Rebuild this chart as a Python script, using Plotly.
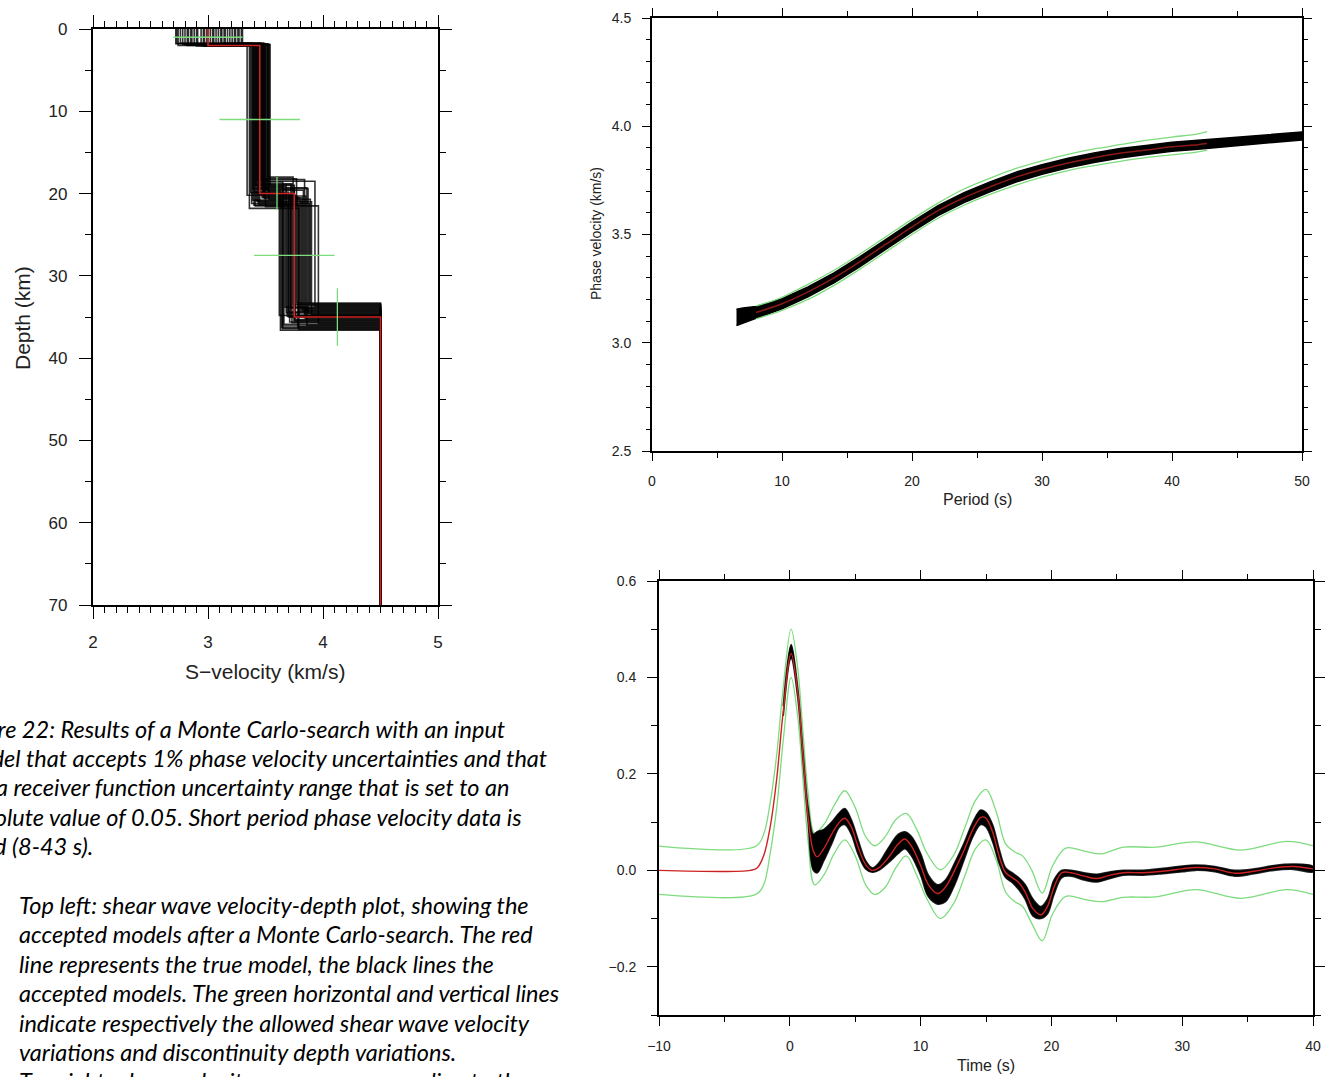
import plotly.graph_objects as go

W, H = 1334, 1077

# ---------------- Top-left: S-velocity vs depth ----------------
true_v = [3.0, 3.0, 3.45, 3.45, 3.75, 3.75, 4.5, 4.5]
true_d = [0, 2, 2, 20, 20, 35, 35, 70]

acc_v1 = [2.72, 3.29, 2.85, 3.12, 2.96, 2.78, 3.21, 3.05, 2.91, 3.17, 2.74, 3.26, 2.99, 2.82, 3.09, 3.23, 2.88, 3.02,
          2.76, 3.15, 2.94, 3.19, 2.80, 3.07, 2.97, 3.27, 2.86, 3.11, 2.73, 3.00, 3.24, 2.90, 3.14, 2.83, 3.04, 3.30]
acc_d1 = [1.8, 2.0, 1.9, 1.75, 2.05, 1.85, 1.95, 2.1, 1.8, 1.9, 2.0, 1.7, 1.85, 2.0, 1.95, 1.8, 1.9, 2.05,
          1.75, 1.85, 2.0, 1.9, 1.95, 1.8, 2.1, 1.85, 1.9, 2.0, 1.75, 1.95, 1.8, 2.05, 1.9, 1.85, 2.0, 1.95]
acc_v2 = [3.40, 3.47, 3.52, 3.38, 3.44, 3.50, 3.36, 3.42, 3.48, 3.54, 3.41, 3.46, 3.39, 3.51, 3.45, 3.43, 3.53, 3.37,
          3.49, 3.44, 3.40, 3.47, 3.34, 3.52, 3.42, 3.46, 3.50, 3.39, 3.48, 3.43, 3.45, 3.41, 3.53, 3.47, 3.44, 3.49]
acc_d2 = [19.8, 20.5, 18.6, 21.2, 19.5, 20.0, 21.8, 18.9, 20.3, 19.1, 21.5, 18.2, 20.8, 19.6, 20.1, 21.0, 18.0, 19.9,
          20.6, 19.3, 21.4, 18.5, 20.2, 19.7, 20.9, 18.8, 21.6, 19.4, 20.4, 18.3, 21.1, 19.0, 20.7, 19.2, 21.3, 20.0]
acc_v3 = [3.70, 3.82, 3.65, 3.88, 3.75, 3.62, 3.79, 3.72, 3.85, 3.68, 3.96, 3.77, 3.64, 3.83, 3.71, 3.90, 3.74, 3.66,
          3.80, 3.86, 3.69, 3.93, 3.76, 3.63, 3.81, 3.73, 3.67, 3.87, 3.78, 3.84, 3.70, 3.75, 3.89, 3.65, 3.79, 3.72]
acc_d3 = [35.0, 34.2, 36.1, 33.6, 35.5, 34.8, 36.5, 33.9, 35.2, 34.5, 35.8, 33.3, 36.3, 34.0, 35.6, 34.7, 33.5, 35.9,
          34.3, 36.0, 34.9, 33.7, 35.3, 36.6, 34.1, 35.7, 33.8, 34.6, 36.2, 35.1, 34.4, 35.4, 33.4, 36.4, 34.8, 35.0]
halfspace_v = 4.5
max_depth = 70

cross_depth = [1.0, 11.0, 27.5]
cross_vmin = [2.70, 3.10, 3.40]
cross_vmax = [3.30, 3.80, 4.10]
iface_v = [3.60, 4.125]
iface_dmin = [18.0, 31.5]
iface_dmax = [22.0, 38.5]

# ---------------- Top-right: phase velocity ----------------
band_period = [6.5, 7, 8, 10, 12, 14, 16, 18, 20, 22, 24, 26, 28, 30, 32, 34, 36, 38, 40, 42, 44, 46, 48, 50]
band_lo = [3.08, 3.09, 3.113, 3.157, 3.212, 3.277, 3.352, 3.432, 3.512, 3.587, 3.647, 3.697, 3.742, 3.778,
           3.808, 3.833, 3.853, 3.869, 3.884, 3.894, 3.906, 3.916, 3.926, 3.937]
band_hi = [3.155, 3.16, 3.167, 3.203, 3.258, 3.323, 3.398, 3.478, 3.558, 3.633, 3.693, 3.743, 3.788, 3.822,
           3.852, 3.877, 3.897, 3.911, 3.926, 3.936, 3.944, 3.954, 3.964, 3.973]

pv_period = [8, 10, 12, 14, 16, 18, 20, 22, 24, 26, 28, 30, 32, 34, 36, 38, 40, 42, 42.7]
pv_true = [3.14, 3.18, 3.235, 3.30, 3.375, 3.455, 3.535, 3.61, 3.67, 3.72, 3.765, 3.80, 3.83, 3.855, 3.875,
           3.89, 3.905, 3.915, 3.92]
pv_upper = [3.17, 3.21, 3.27, 3.335, 3.41, 3.49, 3.57, 3.645, 3.71, 3.76, 3.805, 3.84, 3.87, 3.895, 3.915,
            3.935, 3.95, 3.965, 3.975]
pv_lower = [3.11, 3.15, 3.20, 3.265, 3.34, 3.42, 3.50, 3.575, 3.635, 3.685, 3.728, 3.765, 3.795, 3.818, 3.838,
            3.855, 3.868, 3.882, 3.89]

# ---------------- Bottom-right: receiver function ----------------
rf_t = [-10, -3, -2.5, -2.0, -1.5, -1.0, -0.5, 0.1, 0.6, 1.0, 1.4, 1.8, 2.1, 2.6, 3.2, 3.8, 4.2, 4.7, 5.2, 5.8,
        6.3, 6.8, 7.5, 8.3, 8.8, 9.3, 10.0, 10.6, 11.3, 11.9, 12.6, 13.3, 14.0, 14.6, 15.0, 15.5, 16.0, 16.5,
        17.0, 17.5, 18.0, 18.6, 19.2, 19.7, 20.2, 20.8, 21.5, 22.5, 23.5, 24.5, 25.5, 27, 28.5, 30, 31, 32.5,
        34, 35.5, 37, 38.5, 40]
rf_true = [0, 0, 0.005, 0.03, 0.09, 0.19, 0.33, 0.45, 0.37, 0.24, 0.11, 0.04, 0.028, 0.045, 0.075, 0.10, 0.108,
           0.09, 0.05, 0.012, 0.0, 0.005, 0.025, 0.055, 0.065, 0.05, 0.01, -0.03, -0.048, -0.035, 0.0, 0.04,
           0.085, 0.11, 0.108, 0.08, 0.03, -0.005, -0.015, -0.025, -0.045, -0.08, -0.092, -0.075, -0.035, -0.005,
           -0.005, -0.012, -0.017, -0.01, -0.005, -0.005, -0.002, 0.003, 0.006, 0.003, -0.006, -0.002, 0.005,
           0.008, 0.003]

rf_green_t = [-10, -2.6, -2.0, -1.5, -1.0, -0.5, 0.1, 0.6, 1.0, 1.4, 1.9, 2.6, 3.4, 4.2, 5.0, 5.8, 6.5, 7.3,
              8.1, 8.9, 9.7, 10.5, 11.5, 12.5, 13.4, 14.2, 15.0, 15.8, 16.5, 17.2, 17.8, 18.5, 19.3, 20.1, 21.1,
              22.5, 23.8, 25.5, 28, 31, 34.5, 38, 40]
rf_green_hi = [0.05, 0.05, 0.075, 0.14, 0.24, 0.38, 0.50, 0.42, 0.29, 0.16, 0.077, 0.095, 0.135, 0.165, 0.13,
               0.07, 0.051, 0.07, 0.105, 0.118, 0.085, 0.035, 0.001, 0.03, 0.09, 0.145, 0.168, 0.12, 0.055, 0.038,
               0.03, 0.0, -0.047, 0.01, 0.046, 0.04, 0.034, 0.048, 0.048, 0.059, 0.042, 0.06, 0.051]
rf_green_lo = [-0.05, -0.05, -0.03, 0.035, 0.13, 0.27, 0.40, 0.32, 0.19, 0.06, -0.03, -0.01, 0.035, 0.063, 0.03,
               -0.03, -0.05, -0.035, 0.005, 0.03, -0.01, -0.06, -0.10, -0.07, -0.01, 0.045, 0.063, 0.02, -0.045,
               -0.065, -0.075, -0.11, -0.146, -0.09, -0.054, -0.06, -0.065, -0.056, -0.055, -0.04, -0.058, -0.04,
               -0.05]

rf_band_t = [-0.5, 0.1, 0.6, 1.0, 1.4, 1.8, 2.1, 2.6, 3.2, 3.8, 4.2, 4.7, 5.2, 5.8, 6.3, 6.8, 7.5, 8.3, 8.8, 9.3,
             10.0, 10.6, 11.3, 11.9, 12.6, 13.3, 14.0, 14.6, 15.0, 15.5, 16.0, 16.5, 17.0, 17.5, 18.0, 18.6, 19.2,
             19.7, 20.2, 20.8, 21.5, 22.5, 23.5, 24.5, 25.5, 27, 28.5, 30, 31, 32.5, 34, 35.5, 37, 38.5, 40]
rf_band_hi = [0.34, 0.468, 0.38, 0.25, 0.13, 0.075, 0.08, 0.085, 0.10, 0.12, 0.128, 0.105, 0.065, 0.02, 0.005,
              0.015, 0.045, 0.075, 0.08, 0.07, 0.035, -0.01, -0.03, -0.02, 0.015, 0.055, 0.10, 0.125, 0.12, 0.095,
              0.045, 0.005, -0.005, -0.015, -0.03, -0.06, -0.075, -0.06, -0.02, 0.0, 0.0, -0.005, -0.008, -0.003,
              0.0, 0.0, 0.004, 0.009, 0.011, 0.008, 0.0, 0.003, 0.01, 0.013, 0.008]
rf_band_lo = [0.32, 0.44, 0.36, 0.23, 0.10, 0.0, -0.005, 0.02, 0.055, 0.09, 0.095, 0.075, 0.035, 0.003, -0.004,
              0.0, 0.015, 0.035, 0.045, 0.03, -0.01, -0.055, -0.07, -0.065, -0.03, 0.02, 0.07, 0.095, 0.09, 0.06,
              0.015, -0.015, -0.025, -0.04, -0.06, -0.095, -0.1, -0.09, -0.05, -0.015, -0.012, -0.02, -0.024,
              -0.017, -0.01, -0.01, -0.007, -0.003, 0.0, -0.003, -0.012, -0.007, 0.0, 0.002, -0.003]

# ---------------- Caption ----------------
caption_p1 = [
    "Figure 22: Results of a Monte Carlo-search with an input",
    "model that accepts 1% phase velocity uncertainties and that",
    "uses a receiver function uncertainty range that is set to an",
    "absolute value of 0.05. Short period phase velocity data is",
    "used (8-43 s).",
]
caption_p2 = [
    "Top left: shear wave velocity-depth plot, showing the",
    "accepted models after a Monte Carlo-search. The red",
    "line represents the true model, the black lines the",
    "accepted models. The green horizontal and vertical lines",
    "indicate respectively the allowed shear wave velocity",
    "variations and discontinuity depth variations.",
    "Top right: phase velocity curves corresponding to the",
]
# horizontal pixel offsets of the (left-clipped) first paragraph lines
p1_left = [-46, -41, -54, -41, -41]

RED = "rgb(205,35,35)"
GREEN = "rgb(125,220,125)"
TXT = "#222222"
AXF = "Liberation Sans"

fig = go.Figure()

# accepted models (top-left)
for i in range(len(acc_v1)):
    xs = [acc_v1[i], acc_v1[i], acc_v2[i], acc_v2[i], acc_v3[i], acc_v3[i], halfspace_v, halfspace_v]
    ys = [0, acc_d1[i], acc_d1[i], acc_d2[i], acc_d2[i], acc_d3[i], acc_d3[i], max_depth]
    fig.add_trace(go.Scatter(x=xs, y=ys, mode="lines", line=dict(color="rgba(0,0,0,0.8)", width=1.6),
                             xaxis="x", yaxis="y", showlegend=False, hoverinfo="skip"))
fig.add_trace(go.Scatter(x=true_v, y=true_d, mode="lines", line=dict(color=RED, width=1.6),
                         xaxis="x", yaxis="y", showlegend=False))
gx, gy = [], []
for d, a, b in zip(cross_depth, cross_vmin, cross_vmax):
    gx += [a, b, None]
    gy += [d, d, None]
for v, a, b in zip(iface_v, iface_dmin, iface_dmax):
    gx += [v, v, None]
    gy += [a, b, None]
fig.add_trace(go.Scatter(x=gx, y=gy, mode="lines", line=dict(color=GREEN, width=1.3),
                         xaxis="x", yaxis="y", showlegend=False))

# phase velocity (top-right)
fig.add_trace(go.Scatter(x=band_period + band_period[::-1], y=band_lo + band_hi[::-1], mode="lines",
                         fill="toself", fillcolor="black", line=dict(color="black", width=1.5),
                         xaxis="x2", yaxis="y2", showlegend=False))
fig.add_trace(go.Scatter(x=pv_period, y=pv_upper, mode="lines", line=dict(color=GREEN, width=1.3, shape="spline"),
                         xaxis="x2", yaxis="y2", showlegend=False))
fig.add_trace(go.Scatter(x=pv_period, y=pv_lower, mode="lines", line=dict(color=GREEN, width=1.3, shape="spline"),
                         xaxis="x2", yaxis="y2", showlegend=False))
fig.add_trace(go.Scatter(x=pv_period, y=pv_true, mode="lines", line=dict(color="rgb(140,25,25)", width=1.5, shape="spline"),
                         xaxis="x2", yaxis="y2", showlegend=False))

# receiver function (bottom-right)
fig.add_trace(go.Scatter(x=rf_green_t, y=rf_green_hi, mode="lines", line=dict(color=GREEN, width=1.3, shape="spline"),
                         xaxis="x3", yaxis="y3", showlegend=False))
fig.add_trace(go.Scatter(x=rf_green_t, y=rf_green_lo, mode="lines", line=dict(color=GREEN, width=1.3, shape="spline"),
                         xaxis="x3", yaxis="y3", showlegend=False))
fig.add_trace(go.Scatter(x=rf_band_t + rf_band_t[::-1], y=rf_band_lo + rf_band_hi[::-1], mode="lines",
                         fill="toself", fillcolor="black", line=dict(color="rgba(0,0,0,0.85)", width=1.6, shape="spline"),
                         xaxis="x3", yaxis="y3", showlegend=False))
fig.add_trace(go.Scatter(x=rf_t, y=rf_true, mode="lines", line=dict(color=RED, width=1.4, shape="spline"),
                         xaxis="x3", yaxis="y3", showlegend=False))


def ax(domain, rng, tickvals=None, dtick=None, ticklen=8, minor_dtick=None, minor_len=4, size=14,
       fmt=None, lw=2, standoff=6, anchor=None):
    d = dict(domain=domain, range=rng, ticks="outside", ticklen=ticklen, tickwidth=1.3, tickcolor="black",
             showline=True, linecolor="black", linewidth=lw, mirror="ticks", showgrid=False, zeroline=False,
             tickfont=dict(family=AXF, size=size, color=TXT), ticklabelstandoff=standoff, anchor=anchor,
             fixedrange=True, automargin=False)
    if tickvals is not None:
        d["tickvals"] = tickvals
        d["tickmode"] = "array"
    if dtick is not None:
        d["dtick"] = dtick
        d["tick0"] = 0
    if minor_dtick is not None:
        d["minor"] = dict(dtick=minor_dtick, ticklen=minor_len, ticks="outside", tickwidth=1.1,
                          tickcolor="black", showgrid=False)
    if fmt:
        d["tickformat"] = fmt
    return d


def px(x):
    return x / W


def py(y):
    return 1 - y / H


layout = dict(
    width=W, height=H, margin=dict(l=0, r=0, t=0, b=0, pad=0, autoexpand=False), autosize=False,
    paper_bgcolor="white", plot_bgcolor="white", showlegend=False,
    xaxis=ax([px(93), px(438)], [2, 5], tickvals=[2, 3, 4, 5], ticklen=12, minor_dtick=0.1, minor_len=6,
             size=17, lw=2.2, standoff=8, anchor="y"),
    yaxis=ax([py(605), py(29)], [70, 0], dtick=10, ticklen=12, minor_dtick=5, minor_len=6, size=17, lw=2.2,
             standoff=8, anchor="x"),
    xaxis2=ax([px(652), px(1302)], [0, 50], dtick=10, ticklen=8, minor_dtick=5, minor_len=5, size=14,
              standoff=8, anchor="y2"),
    yaxis2=ax([py(451), py(18)], [2.5, 4.5], dtick=0.5, ticklen=8, minor_dtick=0.1, minor_len=4, size=14,
              fmt=".1f", standoff=8, anchor="x2"),
    xaxis3=ax([px(659), px(1313)], [-10, 40], dtick=10, ticklen=9, minor_dtick=5, minor_len=5, size=14,
              standoff=8, anchor="y3"),
    yaxis3=ax([py(1015), py(581)], [-0.3, 0.6], tickvals=[-0.2, 0.0, 0.2, 0.4, 0.6], ticklen=10,
              minor_dtick=0.1, minor_len=6, size=14, fmt=".1f", standoff=8, anchor="x3"),
)
fig.update_layout(**layout)

ann = []
tfont = dict(family=AXF, size=21, color=TXT)
ann.append(dict(text="Depth (km)", x=px(22), y=py(318), textangle=-90, font=tfont))
ann.append(dict(text="S\u2212velocity (km/s)", x=px(265), y=py(671), font=tfont))
ann.append(dict(text="Phase velocity (km/s)", x=px(596), y=py(234), textangle=-90,
                font=dict(family=AXF, size=14, color=TXT)))
ann.append(dict(text="Period (s)", x=px(977), y=py(500), font=dict(family=AXF, size=16, color=TXT)))
ann.append(dict(text="Time (s)", x=px(986), y=py(1065), font=dict(family=AXF, size=16, color=TXT)))

cfont = dict(family="Lato", size=23.5, style="italic", color="#000000")
for k, line in enumerate(caption_p1):
    ann.append(dict(text=line, x=px(p1_left[k]), y=py(729 + 29.2 * k), xanchor="left", font=cfont))
for k, line in enumerate(caption_p2):
    ann.append(dict(text=line, x=px(17), y=py(905 + 29.4 * k), xanchor="left", font=cfont))

for a in ann:
    a.setdefault("xanchor", "center")
    a.update(xref="paper", yref="paper", yanchor="middle", showarrow=False)
fig.update_layout(annotations=ann)

fig.write_html("out.html")
